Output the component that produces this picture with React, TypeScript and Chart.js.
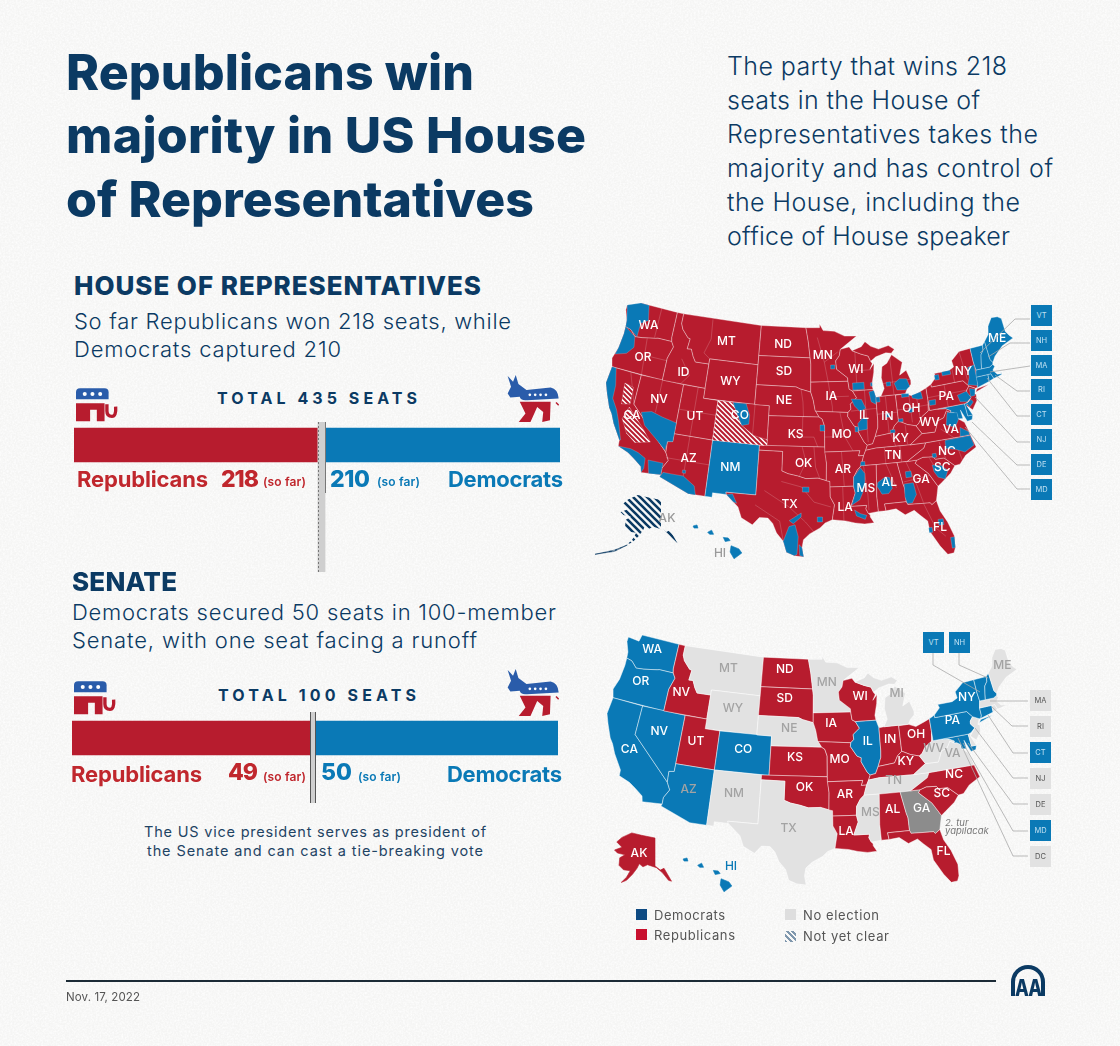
import React, { useEffect, useRef } from "react";
import { Chart, registerables } from "chart.js";
Chart.register(...registerables);

/* ---------- values ---------- */
const HOUSE_PARTIES = ["Republicans", "Undecided", "Democrats"];
const HOUSE_SEATS = [218, 7, 210];
const SENATE_SEATS = [49, 1, 50];

const SENATE_DEMOCRATS = ["WA","OR","CA","NV","AZ","CO","IL","PA","NY","CT","MD","VT","NH","HI"];
const SENATE_REPUBLICANS = ["ID","UT","ND","SD","IA","WI","KS","MO","OK","AR","LA","AL","FL","SC","NC","KY","IN","OH","AK"];
const SENATE_RUNOFF = ["GA"];
const HOUSE_BLUE_STATES = ["NM","ME","NH","VT","MA","RI","CT","MD","DE"];

/* state outlines: lon,lat pairs */
const STATE_SHAPES: Record<string, number[]> = {
  WA:[-124.7,48.4,-123,48.3,-122.8,49,-117.03,49,-117.04,46.4,-116.92,45.99,-118.98,46,-119.3,45.93,-121.2,45.65,-122.3,45.55,-122.8,45.9,-123.2,46.15,-124,46.27,-124.1,46.9,-124.7,47.9],
  OR:[-124,46.27,-123.2,46.15,-122.8,45.9,-122.3,45.55,-121.2,45.65,-119.3,45.93,-118.98,46,-116.92,45.99,-116.5,45.5,-117.03,44.25,-117.03,42,-124.2,42,-124.55,42.84,-124.1,44,-123.95,45.5],
  CA:[-124.2,42,-120,42,-120,39,-114.63,35,-114.15,34.27,-114.72,33.4,-114.72,32.72,-117.12,32.53,-117.3,33.1,-118.4,33.75,-119.2,34.15,-120.6,34.55,-120.65,35.15,-121.9,36.6,-122.5,37.5,-123,38,-123.8,39.3,-124.35,40.3],
  NV:[-120,42,-114.04,42,-114.04,36.2,-114.7,36.1,-114.63,35,-120,39],
  ID:[-117.03,49,-116.05,49,-116.05,48,-115.7,47.45,-114.7,46.7,-114.35,46.65,-114.5,45.6,-113.9,45.65,-113.45,44.95,-113,44.45,-111.05,44.48,-111.05,42,-117.03,42,-117.03,44.25,-116.5,45.5,-116.92,45.99,-117.04,46.4],
  MT:[-116.05,49,-104.05,49,-104.05,45,-111.05,45,-111.05,44.48,-113,44.45,-113.45,44.95,-113.9,45.65,-114.5,45.6,-114.35,46.65,-114.7,46.7,-115.7,47.45,-116.05,48],
  WY:[-111.05,45,-104.05,45,-104.05,41,-111.05,41],
  UT:[-114.04,42,-111.05,42,-111.05,41,-109.05,41,-109.05,37,-114.04,37],
  AZ:[-114.04,37,-109.05,37,-109.05,31.33,-111.07,31.33,-114.81,32.5,-114.72,32.72,-114.72,33.4,-114.15,34.27,-114.63,35,-114.7,36.1,-114.04,36.2],
  CO:[-109.05,41,-102.05,41,-102.05,37,-109.05,37],
  NM:[-109.05,37,-103,37,-103,32,-106.62,32,-106.53,31.78,-108.2,31.78,-108.2,31.33,-109.05,31.33],
  ND:[-104.05,49,-97.23,49,-96.85,47.6,-96.56,45.94,-104.05,45.94],
  SD:[-104.05,45.94,-96.56,45.94,-96.45,45.3,-96.45,42.5,-97.9,42.8,-98.5,43,-104.05,43],
  NE:[-104.05,43,-98.5,43,-97.9,42.8,-96.45,42.5,-96.1,41.7,-95.85,40.7,-95.3,40,-102.05,40,-102.05,41,-104.05,41],
  KS:[-102.05,40,-95.3,40,-94.9,39.8,-94.6,39.1,-94.62,37,-102.05,37],
  OK:[-103,37,-94.62,37,-94.43,35.4,-94.48,33.64,-95.5,33.9,-97,33.85,-98,34.1,-99.2,34.3,-100,34.56,-100,36.5,-103,36.5],
  TX:[-103,36.5,-100,36.5,-100,34.56,-99.2,34.3,-98,34.1,-97,33.85,-95.5,33.9,-94.48,33.64,-94.04,33.55,-94.04,32,-93.55,31.2,-93.85,29.7,-94.7,29.4,-95.3,28.9,-96.5,28.3,-97.2,27.7,-97.35,26.9,-97.15,25.95,-98.2,26.05,-99.1,26.4,-99.5,27.5,-100.3,28.3,-100.8,29.25,-101.4,29.77,-102.4,29.77,-103.15,28.98,-104.5,29.6,-105,30.65,-106.53,31.78,-106.62,32,-103,32],
  MN:[-97.23,49,-95.15,49,-95.15,49.38,-94.6,48.7,-92.9,48.6,-91.4,48.07,-89.6,48,-92.1,46.75,-92.3,46.1,-92.85,45.6,-92.75,44.75,-91.25,43.85,-91.22,43.5,-96.45,43.5,-96.45,45.3,-96.56,45.94,-96.85,47.6],
  IA:[-96.45,43.5,-91.22,43.5,-91.1,42.7,-90.65,42.5,-90.15,41.8,-91.05,41.2,-91,40.7,-91.42,40.38,-95.77,40.58,-95.85,40.7,-96.1,41.7,-96.45,42.5],
  MO:[-95.77,40.58,-91.42,40.38,-91.5,40,-90.7,39,-90.15,38.8,-90.2,38.4,-89.5,37.3,-89.15,37,-89.4,36.5,-89.7,36,-90.37,36,-90.15,36.5,-94.62,36.5,-94.62,37,-94.6,39.1,-94.9,39.8,-95.3,40],
  AR:[-94.62,36.5,-90.15,36.5,-90.37,36,-89.7,36,-90.1,35,-90.6,34.6,-91.1,33.9,-91.17,33,-94.04,33,-94.04,33.55,-94.48,33.64,-94.43,35.4],
  LA:[-94.04,33,-91.17,33,-91,32.3,-91.6,31,-89.73,31,-89.85,30.65,-89.6,30.18,-89.4,30,-89.4,29.8,-89,29.2,-90.1,29.15,-91.2,29.3,-92.3,29.55,-93.85,29.7,-93.55,31.2,-94.04,32],
  WI:[-92.1,46.75,-90.8,46.95,-90.4,46.55,-89.1,46.14,-88.1,45.9,-87.8,45.35,-87.6,45.1,-88,44.55,-87.35,45.1,-87.5,44.2,-87.9,43,-87.8,42.5,-90.65,42.5,-91.1,42.7,-91.22,43.5,-91.25,43.85,-92.75,44.75,-92.85,45.6,-92.3,46.1],
  IL:[-90.65,42.5,-87.8,42.5,-87.5,41.7,-87.53,39.35,-87.6,38.7,-88.05,37.8,-88.45,37.1,-89.15,37,-89.5,37.3,-90.2,38.4,-90.15,38.8,-90.7,39,-91.5,40,-91.42,40.38,-91,40.7,-91.05,41.2,-90.15,41.8],
  IN:[-87.5,41.7,-86.8,41.76,-84.8,41.76,-84.8,39.1,-85.4,38.7,-85.9,38,-87,37.9,-88.05,37.8,-87.6,38.7,-87.53,39.35],
  OH:[-84.8,41.7,-83.45,41.73,-82.5,41.4,-81.3,41.75,-80.52,41.98,-80.52,40.64,-80.7,39.7,-81.7,39.2,-82.2,38.6,-82.6,38.4,-83.7,38.65,-84.8,39.1],
  MI:[-86.8,41.76,-84.8,41.76,-83.45,41.73,-83.1,42.2,-82.5,42.6,-82.45,43,-82.9,44.05,-83.9,43.65,-83.3,44.9,-84.7,45.78,-85.5,45,-86.25,44.7,-86.5,43.6,-86.25,42.5],
  UP:[-90.4,46.55,-89.1,46.14,-88.1,45.9,-87.8,45.35,-87,45.75,-85.5,46.05,-84.7,45.95,-84.2,46.3,-85,46.75,-86.5,46.5,-87.6,46.85,-88.4,47.37,-89,46.9],
  KY:[-89.4,36.5,-89.15,37,-88.45,37.1,-88.05,37.8,-87,37.9,-85.9,38,-85.4,38.7,-84.8,39.1,-83.7,38.65,-82.6,38.4,-81.97,37.55,-83.68,36.6,-88.07,36.65],
  TN:[-90.1,35,-89.7,36,-89.4,36.5,-88.07,36.65,-83.68,36.6,-81.68,36.59,-82,36.1,-84.3,35,-85.6,35,-88.2,35],
  MS:[-90.1,35,-88.2,35,-88.45,31.9,-88.4,30.3,-89.6,30.18,-89.85,30.65,-89.73,31,-91.6,31,-91,32.3,-91.17,33,-91.1,33.9,-90.6,34.6],
  AL:[-88.2,35,-85.6,35,-85.15,32.8,-85,32.3,-85,31,-87.6,31,-87.5,30.3,-88.4,30.3,-88.45,31.9],
  GA:[-85.6,35,-84.3,35,-83.1,35,-83.35,34.7,-81.9,33.5,-81,32.1,-81.45,30.7,-82.05,30.36,-82.2,30.57,-84.86,30.7,-85,31,-85,32.3,-85.15,32.8],
  FL:[-87.5,30.3,-87.6,31,-85,31,-84.86,30.7,-82.2,30.57,-82.05,30.36,-81.45,30.7,-81.2,29.6,-80.55,28.4,-80.05,26.9,-80.15,25.7,-80.4,25.2,-81.1,25.15,-81.8,26.1,-82.7,27.7,-82.8,28.8,-83.6,29.5,-84.2,30.05,-85.3,29.7,-86.3,30.4],
  SC:[-83.1,35,-82.3,35.2,-81.05,35.1,-80.8,34.82,-79.7,34.8,-78.55,33.85,-79.2,33.2,-80.5,32.4,-81,32.1,-81.9,33.5,-83.35,34.7],
  NC:[-84.3,35,-83.1,35,-82.3,35.2,-81.05,35.1,-80.8,34.82,-79.7,34.8,-78.55,33.85,-77.9,33.9,-77,34.65,-75.5,35.25,-75.9,36.55,-81.68,36.59,-82,36.1],
  VA:[-83.68,36.6,-81.68,36.59,-75.9,36.55,-76,37,-76.3,37.9,-77.05,38.4,-77.05,38.85,-77.5,39.1,-77.83,39.13,-78.35,39.4,-78.87,38.76,-79.65,38.58,-80.3,37.5,-81.97,37.55],
  WV:[-81.97,37.55,-80.3,37.5,-79.65,38.58,-78.87,38.76,-78.35,39.4,-77.83,39.13,-77.75,39.32,-78.4,39.62,-79.48,39.72,-80.52,39.72,-80.52,40.64,-80.7,39.7,-81.7,39.2,-82.2,38.6,-82.6,38.4],
  MD:[-79.48,39.72,-75.79,39.72,-75.7,38.46,-75.05,38.45,-75.25,38.03,-75.9,37.95,-76.5,39.2,-76.4,38.3,-77.05,38.4,-77.05,38.85,-77.5,39.1,-77.83,39.13,-77.75,39.32,-78.4,39.62],
  DE:[-75.79,39.72,-75.4,39.8,-75.55,39.45,-75.05,38.45,-75.7,38.46],
  PA:[-80.52,41.98,-79.76,42.27,-79.76,42,-75.35,42,-74.7,41.36,-75.13,40.98,-75.2,40.68,-74.75,40.2,-75.4,39.8,-75.79,39.72,-80.52,39.72],
  NJ:[-74.7,41.36,-73.9,41,-74.25,40.47,-74,40.4,-74.1,39.75,-74.9,38.95,-75.55,39.5,-74.75,40.2,-75.2,40.68,-75.13,40.98],
  NY:[-79.76,42.27,-78.9,42.9,-79.05,43.27,-77,43.28,-76.2,43.55,-76.3,44.2,-75,44.95,-73.35,45,-73.35,43.6,-73.25,42.75,-73.5,42.05,-73.5,41.3,-73.65,41,-73.9,41,-74.7,41.36,-75.35,42,-79.76,42],
  LI:[-74,40.6,-72,41.05,-73.7,40.9],
  CT:[-73.5,42.05,-71.8,42.02,-71.85,41.32,-73.65,41,-73.5,41.3],
  RI:[-71.8,42.02,-71.38,42.02,-71.15,41.5,-71.85,41.32],
  MA:[-73.5,42.05,-73.25,42.75,-71.3,42.7,-70.82,42.87,-70.6,42.65,-71,42.3,-70.55,41.8,-70,41.75,-70,42.05,-69.95,41.67,-70.6,41.55,-71.15,41.5,-71.38,42.02,-71.8,42.02],
  VT:[-73.35,45,-71.5,45,-71.6,44.5,-72.05,44.1,-72.3,43.3,-72.45,42.73,-73.25,42.75,-73.35,43.6],
  NH:[-71.5,45,-71.08,45.3,-70.98,43.4,-70.7,43.07,-70.82,42.87,-71.3,42.7,-72.45,42.73,-72.3,43.3,-72.05,44.1,-71.6,44.5],
  ME:[-71.08,45.3,-70.3,45.9,-70,46.7,-69.2,47.45,-68.3,47.35,-67.8,47.07,-67.8,45.7,-67.4,45.2,-67,44.85,-68.8,44.4,-70.2,43.6,-70.7,43.07,-70.98,43.4],
};

const ALASKA = [-141,69.6,-141,60.3,-137.5,58.9,-135,59.5,-130,55.2,-132,55.5,-136,58,-140,59.7,-146,60.7,-149,60,-151.5,61,-153,59.5,-156,57.5,-160,55.5,-163.5,54.8,-160,56.5,-157.5,58.7,-162,59,-165,60.5,-164.5,63,-161,64,-166,64.6,-168,65.6,-163,66.5,-166.5,68.3,-163,69.8,-156.5,71.3,-150,70.5];
const ALEUTIANS = [-163.5,54.6,-172,52.9,-185,51.5,-172,52.5];
const HAWAII = [
  [-159.8,22.1,-159.4,22.2,-159.3,21.9,-159.7,21.9],
  [-158.3,21.5,-157.9,21.7,-157.7,21.3,-158.1,21.3],
  [-156.7,21,-156.2,20.95,-156,20.7,-156.5,20.6],
  [-155.9,20.2,-155.1,19.9,-154.8,19.5,-155.6,18.95,-156,19.6],
];

/* House districts won by Democrats and the undecided ones: lon,lat pairs */
const HOUSE_BLUE_DISTRICTS: number[][] = [
  [-124.7,48.4,-122.8,49,-121.5,49,-121,47.5,-122,47,-122,45.6,-123.2,46.15,-124,46.27,-124.1,46.9],
  [-124,46.27,-122.3,45.55,-122,44.5,-122.8,43.7,-124.3,43.3,-124.1,44,-123.95,45.5],
  [-124.2,42,-123.6,42,-123,40.3,-122.9,39,-122,38,-121.4,37,-120.5,35.2,-120.65,35.15,-121.9,36.6,-122.5,37.5,-123,38,-123.8,39.3,-124.35,40.3],
  [-120.6,34.55,-119,34.6,-118,34.4,-117,34,-116.9,33,-117.12,32.53,-117.3,33.1,-118.4,33.75,-119.2,34.15],
  [-116.6,33.9,-114.72,33.9,-114.72,32.72,-116.2,32.6],
  [-118.8,38.4,-117.5,38.7,-116,38.4,-114.04,38.1,-114.04,36.2,-114.7,36.1,-114.8,35.2,-116,36,-118,37.2],
  [-114.81,32.5,-111.07,31.33,-110.2,31.33,-110.5,32.2,-112,33,-113.5,33,-114.5,33],
  [-112.2,33.6,-111.8,33.6,-111.8,33.3,-112.2,33.3],
  [-107,41,-105.2,41,-104.6,39.9,-104.6,39,-105.5,38.8,-106,39.5],
  [-74.8,41.5,-73.5,41.2,-73.35,43.3,-74.3,43.2,-74.4,42.2],
  [-78,43.3,-76.8,43.3,-76.8,42.9,-78,42.9],
  [-79.1,43.1,-78.5,43.1,-78.5,42.6,-79.1,42.6],
  [-76.5,40.7,-75.2,40.9,-74.75,40.2,-75.4,39.85,-76.3,40],
  [-80.4,40.7,-79.5,40.7,-79.6,40.2,-80.4,40.2],
  [-74.7,41.1,-74,40.9,-74.2,40.3,-74.8,40.3],
  [-75.5,39.7,-74.8,40,-74.6,39.7,-75.2,39.3],
  [-78.3,39.2,-77,39,-77,38.3,-77.6,37.6,-78.7,38],
  [-77,37.5,-76,36.9,-76,36.6,-77.2,36.6],
  [-79.2,36.5,-75.95,36.5,-75.7,35.5,-77,35,-78,35.4,-79.3,35.7],
  [-81.1,35.4,-80.6,35.4,-80.6,35,-81.1,35],
  [-81.3,34.3,-80.2,34.1,-79.5,33.5,-80,32.7,-80.8,33,-81.2,33.6],
  [-85,32.8,-83.9,32.8,-83.7,31.6,-84.3,30.8,-84.9,30.8,-85.1,31.5],
  [-84.7,34,-84,34,-84,33.4,-84.7,33.4],
  [-88.2,33.2,-87.2,33.7,-86.7,33.6,-86.5,32.5,-87,32,-87.8,32,-88.3,32.8],
  [-91.1,33.9,-90.2,34.8,-89.7,34.2,-89.8,33,-90.1,32.3,-90.5,31.6,-91.5,31.1,-91,32.3,-91.17,33],
  [-90.1,35.4,-89.6,35.4,-89.6,35,-90.2,35],
  [-91.2,30.6,-90.5,30.2,-89.8,30,-90,29.6,-91,30],
  [-99.1,26.4,-99.5,27.5,-98.9,29,-98.2,29.2,-97.8,28,-97.9,26.2,-98.2,26.05],
  [-97.15,25.95,-97.6,26.1,-97.7,27.2,-97.35,26.9],
  [-106.53,31.78,-105.6,31.1,-105.2,31,-105.8,31.9],
  [-98.9,29.6,-97.5,30.4,-97.5,30,-98.4,29.3],
  [-95.6,30,-95,30,-95,29.5,-95.6,29.5],
  [-97.4,33,-96.6,33,-96.6,32.5,-97.4,32.5],
  [-81.6,28.8,-81,28.8,-81,28.2,-81.6,28.2],
  [-80.5,26.8,-80.05,26.8,-80.15,25.7,-80.5,25.7],
  [-82.8,28.1,-82.4,28.1,-82.4,27.6,-82.8,27.6],
  [-88.4,42.3,-87.7,42.4,-87.5,41.7,-87.6,41,-88.2,41.3],
  [-90.9,41.7,-89.5,41.6,-89,40.7,-89.8,40.4,-90.5,41],
  [-90.2,39.2,-89.6,39.7,-88.9,39.7,-89,38.6,-90.1,38.5],
  [-90.6,43.3,-89,43.3,-89,42.6,-90.6,42.6],
  [-88.1,43.2,-87.85,43.2,-87.85,42.85,-88.1,42.85],
  [-93.6,45.2,-93,45.2,-93,44.8,-93.6,44.8],
  [-95.2,39.2,-94.6,39.2,-94.6,38.6,-95.2,38.6],
  [-90.6,38.9,-90.2,38.9,-90.2,38.4,-90.6,38.4],
  [-84,43.3,-83,43.2,-82.7,42.4,-83.3,42.1,-84.5,42.2,-84.8,42.9],
  [-85.9,43.1,-85.3,43.1,-85.3,42.7,-85.9,42.7],
  [-82.6,41.5,-81.3,41.7,-81.2,41,-81.8,41,-82.6,41.2],
  [-84,41.75,-83,41.7,-83,41.4,-84,41.4],
  [-83.3,40.2,-82.7,40.2,-82.7,39.8,-83.3,39.8],
  [-84.8,39.3,-84.2,39.3,-84.2,39,-84.8,39],
  [-86,38.3,-85.4,38.3,-85.4,38,-86,38],
  [-86.4,40,-85.9,40,-85.9,39.6,-86.4,39.6],
  [-87.5,41.7,-87,41.7,-87,41.2,-87.5,41.2],
];
const HOUSE_UNDECIDED_DISTRICTS: number[][] = [
  [-121.9,40.8,-120.6,40.6,-120.5,38.9,-121.6,38.7],
  [-120.5,38.6,-118.3,37,-116.8,35.7,-118.7,35.3,-120,36,-121,37.3],
  [-109.05,41,-107,41,-106,39.5,-105.5,38.8,-103.8,37.9,-102.05,37.6,-102.05,37,-109.05,37],
];
const HOUSE_DISTRICT_LINES: number[][] = [
  [-111.5,49,-111.3,47,-112,45.5,-111.05,45],[-115,44.5,-113.5,43,-114.5,42],[-97.8,42.8,-97.5,41.5,-97.4,40],[-97.5,40,-97.5,38,-96,38,-95.5,37],
  [-97.5,37,-97,35.5,-97.8,34.1],[-96,37,-95.8,35,-95.3,33.9],[-100,33.5,-97.5,33,-96,31.5,-94,31],[-102,32.5,-99,31,-97,29.5,-96,28.5],[-103,31,-100,29.5,-99.5,27.5],
  [-95.5,48,-94.5,45.5,-94,43.5],[-94.5,45.5,-92.5,46.5],[-94,43.5,-93.5,41,-93.5,40.5],[-93.5,42,-91.2,42],[-92.5,40.4,-92,38,-91,36.5],[-94.6,38,-92,38],
  [-92.5,36.5,-92.3,33],[-92.5,33,-92.5,29.6],[-89.8,35,-89.5,32,-89.5,30.5],[-87,35,-86,32.5],[-84.5,35,-83.5,32.5,-83,30.7],[-85,33,-81.8,33.3],[-83,30.6,-82,28,-81,27],
  [-81.5,35,-80.5,33],[-80,36.5,-79.5,34.7],[-78,36.5,-77.5,34.2],[-79.5,37.7,-78,36.6],[-87,36.6,-87,35],[-85,36.6,-85,35],[-86,37.9,-85.5,36.6],[-84,38.6,-84,36.7],
  [-83,41.6,-83,38.8],[-82,41.4,-81.9,39],[-84.8,40.2,-80.6,40.3],[-86.2,41.7,-86.2,38],[-87.5,40,-84.8,40],[-89,42.5,-89,37.3],[-91,40.5,-87.5,40.6],[-90,46.5,-90,42.5],[-90,44.5,-87.8,44.5],
  [-85,45.5,-85,41.8],[-86.5,43,-82.5,43.1],[-78,42,-78,39.7],[-80.5,41,-75,41],[-76.5,43.5,-76.5,42],[-75,45,-74.7,42],[-112,37,-112,32],[-114.5,34.5,-109.05,34.5],
  [-112,42,-112,37],[-114,39.5,-109,39.5],[-117,42,-117,38.7],[-120.5,45.7,-120,42],[-120,44,-117,44],[-119.5,49,-119.5,46],[-104,41,-104,38],[-121.5,42,-120,39],
];

/* map labels: name, lon, lat */
const HOUSE_LABELS: [string, number, number][] = [
  ["WA",-120.8,47],["OR",-120.4,43.8],["ID",-114.4,43.2],["MT",-109,47],["ND",-100.6,47.2],["SD",-100.3,44.5],["MN",-94.7,46.2],
  ["WI",-90,44.6],["WY",-107.7,43.1],["NE",-100.1,41.6],["IA",-93.6,42],["NV",-116.9,40],["UT",-111.8,39.1],["CO",-105.9,39.8],
  ["CA",-119.9,37.9],["IL",-89.3,40],["IN",-86.2,39.7],["OH",-82.9,40.2],["PA",-78,40.8],["NY",-75,42.9],["ME",-69.2,45.3],
  ["KS",-98.4,38.3],["MO",-92.4,38.2],["KY",-84.8,37.4],["WV",-80.8,38.5],["VA",-78.2,37.5],["NC",-79.2,35.4],["TN",-86,35.8],
  ["OK",-97.3,35.4],["AR",-92.4,34.7],["AZ",-111.7,34.8],["NM",-106.4,34.5],["MS",-89.7,32.7],["AL",-86.8,33.1],["GA",-82.9,33],
  ["SC",-80.1,33.9],["TX",-98.9,31.2],["LA",-92.3,30.9],["FL",-81.5,28],
];
const SENATE_LABELS: [string, number, number][] = [
  ["WA",-120.6,47.4],["OR",-121,44],["NV",-115.1,43.8],["CA",-120.1,37],["NV",-116.9,39.5],["AZ",-111.8,34.3],["UT",-111.9,39.2],["CO",-105.6,39],
  ["MT",-109,47],["WY",-107.6,43],["ND",-100.7,47.5],["SD",-100.5,44.5],["NE",-99.7,41.5],["KS",-98.8,38.5],["OK",-97.5,35.5],["NM",-106.2,34.5],["TX",-99.3,31.3],
  ["MN",-94.5,46.2],["WI",-89.8,44.6],["IA",-94,42],["MO",-93,38.3],["AR",-92.5,34.8],["LA",-92.5,31],["MS",-89.5,32.8],["IL",-89.2,40],["IN",-86.2,40],["OH",-82.7,40.2],
  ["MI",-84.6,44.6],["KY",-84.5,37.6],["TN",-86.3,35.8],["AL",-86.8,32.9],["GA",-83.3,32.7],["FL",-81.5,28],["SC",-80.6,33.9],["NC",-78.7,35.6],["WV",-80.7,38.5],["VA",-78.4,37.7],
  ["PA",-77.6,41],["NY",-75,43],["ME",-69,45.3],
];

const HOUSE_BOXES = ["VT","NH","MA","RI","CT","NJ","DE","MD"];
const SENATE_BOXES_RIGHT = ["MA","RI","CT","NJ","DE","MD","DC"];
const SENATE_BOXES_TOP = ["VT","NH"];

/* ---------- styles ---------- */
const NAVY = "#0b3a63";
const RED = "#b71c2e";
const RED_TEXT = "#c0272d";
const BLUE = "#0a79b6";
const GREY = "#e2e2e2";
const GREY_TEXT = "#a3a3a3";
const RUNOFF = "#8c8c8c";
const FONT = "Inter, 'Noto Sans', sans-serif";

const measureCtx = typeof document !== "undefined" ? document.createElement("canvas").getContext("2d") : null;

function T(props: { x: number; y: number; w?: number; size: number; weight?: number; color?: string; italic?: boolean; children: string }) {
  const { x, y, w, size, weight = 400, color = NAVY, italic, children } = props;
  let ls = 0;
  if (w && measureCtx) {
    measureCtx.font = `${italic ? "italic " : ""}${weight} ${size}px ${FONT}`;
    ls = (w - measureCtx.measureText(children).width) / Math.max(1, children.length - 1);
  }
  return (
    <div
      style={{
        position: "absolute", left: x, top: y, transform: "translateY(-50%)", font: `${italic ? "italic " : ""}${weight} ${size}px/1 ${FONT}`,
        color, letterSpacing: ls, whiteSpace: "nowrap",
      }}
    >
      {children}
    </div>
  );
}

/* ---------- bar chart ---------- */
function SeatsBar(props: { seats: number[]; left: number; top: number; width: number; height: number; bar: number; dashed: boolean; bandBottom: number; lineBottom: number; lineTop: number; lineColor: string }) {
  const ref = useRef<HTMLCanvasElement>(null);
  useEffect(() => {
    const { seats, bar, dashed, top, bandBottom, lineBottom, lineTop, lineColor } = props;
    const total = seats[0] + seats[1] + seats[2];
    const divider = {
      id: "divider",
      afterDatasetsDraw(c: any) {
        const ctx = c.ctx;
        const xa = c.scales.x.getPixelForValue(seats[0]);
        const xb = c.scales.x.getPixelForValue(seats[0] + seats[1]);
        ctx.save();
        ctx.fillStyle = "#cfcfcf";
        ctx.fillRect(xa, lineTop - top, xb - xa, bandBottom - lineTop);
        ctx.strokeStyle = lineColor;
        ctx.lineWidth = 1;
        ctx.beginPath();
        if (dashed) ctx.setLineDash([2, 2]);
        ctx.moveTo(Math.round(xa) + 0.5, lineTop - top);
        ctx.lineTo(Math.round(xa) + 0.5, bandBottom - top);
        ctx.stroke();
        ctx.setLineDash([]);
        ctx.beginPath();
        ctx.moveTo(Math.round(xb) + 0.5, lineTop - top);
        ctx.lineTo(Math.round(xb) + 0.5, lineBottom - top);
        ctx.stroke();
        ctx.restore();
      },
    };
    const colors = [RED, "#cfcfcf", BLUE];
    const chart = new Chart(ref.current!, {
      type: "bar",
      data: {
        labels: ["Seats"],
        datasets: HOUSE_PARTIES.map((p, i) => ({ label: p, data: [seats[i]], backgroundColor: colors[i], barThickness: bar, borderWidth: 0 })),
      },
      options: {
        indexAxis: "y",
        animation: false,
        responsive: false,
        layout: { padding: 0 },
        plugins: { legend: { display: false }, tooltip: { enabled: false } },
        scales: {
          x: { stacked: true, min: 0, max: total, display: false },
          y: { stacked: true, display: false },
        },
      },
      plugins: [divider],
    } as any);
    return () => chart.destroy();
  }, []);
  return <canvas ref={ref} width={props.width} height={props.height} style={{ position: "absolute", left: props.left, top: props.top, width: props.width, height: props.height }} />;
}

/* ---------- map chart ---------- */
const D2R = Math.PI / 180;
const P1 = 29.5 * D2R, P2 = 45.5 * D2R;
const N = (Math.sin(P1) + Math.sin(P2)) / 2;
const CC = Math.cos(P1) ** 2 + 2 * N * Math.sin(P1);
const R0 = Math.sqrt(CC - 2 * N * Math.sin(37.5 * D2R)) / N;
function albers(lon: number, lat: number) {
  const r = Math.sqrt(CC - 2 * N * Math.sin(lat * D2R)) / N;
  const t = N * (lon + 96) * D2R;
  return { x: r * Math.sin(t), y: R0 - r * Math.cos(t) };
}
function pairs(flat: number[]) {
  const out: { x: number; y: number }[] = [];
  for (let i = 0; i < flat.length; i += 2) out.push(albers(flat[i], flat[i + 1]));
  return out;
}
const ALL = Object.values(STATE_SHAPES).flatMap(pairs);
const BX0 = Math.min(...ALL.map((p) => p.x)), BX1 = Math.max(...ALL.map((p) => p.x));
const BY0 = Math.min(...ALL.map((p) => p.y)), BY1 = Math.max(...ALL.map((p) => p.y));

function hatch(ctx: CanvasRenderingContext2D, fg: string, bg: string | null, size: number, width: number) {
  const c = document.createElement("canvas");
  c.width = c.height = size;
  const g = c.getContext("2d")!;
  if (bg) { g.fillStyle = bg; g.fillRect(0, 0, size, size); }
  g.strokeStyle = fg;
  g.lineWidth = width;
  g.beginPath();
  g.moveTo(-1, size - 1); g.lineTo(1, size + 1);
  g.moveTo(0, 0); g.lineTo(size, size);
  g.moveTo(size - 1, -1); g.lineTo(size + 1, 1);
  g.stroke();
  return ctx.createPattern(c, "repeat");
}

type Shape = { name: string; fill: string; line: string; pts: { x: number; y: number }[]; open?: boolean };

function MapChart(props: {
  canvas: { left: number; top: number; width: number; height: number };
  fit: { left: number; right: number; top: number; bottom: number };
  alaska: { x: number; y: number };
  hawaii: { x: number; y: number };
  build: (insets: { ak: any[]; al: any[]; hi: any[][] }) => Shape[];
  labels: [string, number, number][];
  labelShift: number;
  labelColor: (s: string) => string;
  extraLabels: { text: string; px: number; py: number; color: string }[];
}) {
  const ref = useRef<HTMLCanvasElement>(null);
  useEffect(() => {
    const { canvas, fit, alaska, hawaii, build, labels, labelShift, labelColor, extraLabels } = props;
    const kx = (BX1 - BX0) / (fit.right - fit.left);
    const ky = (BY1 - BY0) / (fit.bottom - fit.top);
    const toData = (px: number, py: number) => ({ x: BX0 + (px - fit.left) * kx, y: BY1 - (py - fit.top) * ky });
    const inset = (f: number[]) => {
      const o: any[] = [];
      for (let i = 0; i < f.length; i += 2) o.push(toData(alaska.x + (f[i] + 141) * 1.5, alaska.y + (69.6 - f[i + 1]) * 3));
      return o;
    };
    const hi = HAWAII.map((f) => {
      const o: any[] = [];
      for (let i = 0; i < f.length; i += 2) o.push(toData(hawaii.x + (f[i] + 155.5) * 9.75, hawaii.y + (19.6 - f[i + 1]) * 10.4));
      return o;
    });
    const shapes = build({ ak: inset(ALASKA), al: inset(ALEUTIANS), hi });
    const min = toData(canvas.left, canvas.top + canvas.height);
    const max = toData(canvas.left + canvas.width, canvas.top);
    const polygons = {
      id: "polygons",
      beforeDatasetsDraw(c: any) {
        const ctx = c.ctx;
        const pats: Record<string, any> = {
          "hatch-red": hatch(ctx, RED, "#ffffff", 5, 2),
          "hatch-navy": hatch(ctx, NAVY, null, 7, 2.6),
        };
        c.data.datasets.forEach((ds: any, i: number) => {
          const pts = c.getDatasetMeta(i).data;
          if (!ds.polygon || !pts.length) return;
          ctx.beginPath();
          pts.forEach((p: any, j: number) => (j ? ctx.lineTo(p.x, p.y) : ctx.moveTo(p.x, p.y)));
          if (!ds.open) {
            ctx.closePath();
            ctx.fillStyle = pats[ds.backgroundColor] || ds.backgroundColor;
            ctx.fill();
          }
          ctx.strokeStyle = ds.borderColor;
          ctx.lineWidth = ds.borderWidth;
          ctx.stroke();
        });
      },
      afterDatasetsDraw(c: any) {
        const ctx = c.ctx;
        ctx.save();
        ctx.textAlign = "center";
        ctx.textBaseline = "middle";
        ctx.font = `500 12px ${FONT}`;
        labels.forEach(([s, lon, lat]) => {
          const p = albers(lon, lat);
          ctx.fillStyle = labelColor(s);
          ctx.fillText(s, c.scales.x.getPixelForValue(p.x), c.scales.y.getPixelForValue(p.y) + labelShift);
        });
        extraLabels.forEach((l) => {
          const p = toData(l.px, l.py);
          ctx.fillStyle = l.color;
          ctx.fillText(l.text, c.scales.x.getPixelForValue(p.x), c.scales.y.getPixelForValue(p.y));
        });
        ctx.restore();
      },
    };
    const chart = new Chart(ref.current!, {
      type: "scatter",
      data: {
        datasets: shapes.map((s) => ({
          label: s.name, polygon: true, open: s.open, data: s.pts, backgroundColor: s.fill, borderColor: s.line, borderWidth: 0.6, pointRadius: 0, showLine: false,
        })),
      },
      options: {
        animation: false,
        responsive: false,
        layout: { padding: 0 },
        plugins: { legend: { display: false }, tooltip: { enabled: false } },
        scales: {
          x: { type: "linear", min: min.x, max: max.x, display: false },
          y: { type: "linear", min: min.y, max: max.y, display: false },
        },
      },
      plugins: [polygons],
    } as any);
    return () => chart.destroy();
  }, []);
  const cv = props.canvas;
  return <canvas ref={ref} width={cv.width} height={cv.height} style={{ position: "absolute", left: cv.left, top: cv.top, width: cv.width, height: cv.height }} />;
}

const houseBuild = (ins: { ak: any[]; al: any[]; hi: any[][] }): Shape[] => {
  const out: Shape[] = Object.entries(STATE_SHAPES).map(([k, f]) => ({
    name: k, pts: pairs(f), fill: HOUSE_BLUE_STATES.includes(k) ? BLUE : RED, line: "rgba(255,255,255,0.55)",
  }));
  HOUSE_DISTRICT_LINES.forEach((f, i) => out.push({ name: "l" + i, pts: pairs(f), fill: "none", line: "rgba(255,255,255,0.3)", open: true }));
  HOUSE_UNDECIDED_DISTRICTS.forEach((f, i) => out.push({ name: "u" + i, pts: pairs(f), fill: "hatch-red", line: "rgba(255,255,255,0.4)" }));
  HOUSE_BLUE_DISTRICTS.forEach((f, i) => out.push({ name: "d" + i, pts: pairs(f), fill: BLUE, line: "rgba(255,255,255,0.3)" }));
  out.push({ name: "AK", pts: ins.ak, fill: "hatch-navy", line: "rgba(0,0,0,0)" });
  out.push({ name: "Aleutians", pts: ins.al, fill: "hatch-navy", line: NAVY });
  ins.hi.forEach((p, i) => out.push({ name: "HI" + i, pts: p, fill: BLUE, line: BLUE }));
  return out;
};
const senateBuild = (ins: { ak: any[]; al: any[]; hi: any[][] }): Shape[] => {
  const color = (k: string) => {
    const key = k === "UP" ? "MI" : k === "LI" ? "NY" : k;
    if (SENATE_DEMOCRATS.includes(key)) return BLUE;
    if (SENATE_REPUBLICANS.includes(key)) return RED;
    if (SENATE_RUNOFF.includes(key)) return RUNOFF;
    return GREY;
  };
  const out: Shape[] = Object.entries(STATE_SHAPES).map(([k, f]) => ({
    name: k, pts: pairs(f), fill: color(k), line: "rgba(255,255,255,0.75)",
  }));
  out.push({ name: "AK", pts: ins.ak, fill: RED, line: RED });
  ins.hi.forEach((p, i) => out.push({ name: "HI" + i, pts: p, fill: BLUE, line: BLUE }));
  return out;
};
const houseLabelColor = () => "#ffffff";
const senateLabelColor = (s: string) => (["MT","WY","NE","NM","TX","MN","MI","MS","TN","WV","VA","ME","AZ"].includes(s) ? GREY_TEXT : "#ffffff");

/* ---------- icons ---------- */
function Elephant({ x, y }: { x: number; y: number }) {
  return (
    <svg style={{ position: "absolute", left: x, top: y }} width="42" height="34" viewBox="0 0 125 100">
      <path d="M12,0H85Q97,0 97,12V33H0V12Q0,0 12,0Z" fill="#2a5caa" />
      <g fill="#fff"><circle cx="26" cy="17" r="6" /><circle cx="49" cy="17" r="6" /><circle cx="72" cy="17" r="6" /></g>
      <path d="M0,45H85V98H62V64H42V98H0Z" fill={RED} />
      <path d="M92,48V68Q92,84 107,84Q120,84 118,55" fill="none" stroke={RED} strokeWidth="10" />
    </svg>
  );
}
function Donkey({ x, y }: { x: number; y: number }) {
  return (
    <svg style={{ position: "absolute", left: x, top: y }} width="52" height="48" viewBox="0 0 155 143">
      <path d="M2,3L18,20L26,0L34,27L58,45L130,37Q152,41 154,70L60,75Q40,77 38,65L10,67L2,55L12,35Z" fill="#2a5caa" />
      <g fill="#fff"><circle cx="68" cy="59" r="4" /><circle cx="84" cy="59" r="4" /><circle cx="100" cy="59" r="4" /><circle cx="116" cy="59" r="4" /></g>
      <path d="M38,80H130L128,135L105,140L108,110L90,95L70,140L35,140L55,115Z" fill={RED} />
      <path d="M146,82L154,90" stroke={RED} strokeWidth="4" />
    </svg>
  );
}

function Boxes({ names, x, y, step, vertical, grey }: { names: string[]; x: number; y: number; step: number; vertical: boolean; grey?: string[] }) {
  return (
    <>
      {names.map((n, i) => {
        const g = grey && grey.includes(n);
        return (
          <div key={n} style={{
            position: "absolute", left: vertical ? x : x + i * step, top: vertical ? y + i * step : y, width: 21, height: 21,
            background: g ? "#e2e2e2" : BLUE, color: g ? "#555" : "#bfe0f2", font: `400 7.5px/21px ${FONT}`, textAlign: "center",
          }}>{n}</div>
        );
      })}
    </>
  );
}

const HOUSE_LEADERS = ["1030,319 1015,319 980,353","1030,343 1010,343 988,357","1030,366 990,372","1030,391 1017,391 995,375","1030,416 1017,416 987,378","1030,442 1017,442 975,397","1030,465 1017,465 972,422","1030,489 1017,489 965,427"];
const SENATE_LEADERS = ["933,652 933,665 980,692","959,652 959,665 988,678","1028,701 990,701","1028,726 1012,726 992,707","1028,753 1013,753 988,715","1028,778 1013,778 975,728","1028,804 1013,804 968,743","1028,831 1013,831 963,743","1028,856 1013,856 958,738"];

export default function App() {
  return (
    <div style={{ position: "absolute", left: 0, top: 0, width: 1120, height: 1046, overflow: "hidden", background: "#f5f5f4" }}>
      <svg style={{ position: "absolute", left: 0, top: 0 }} width="1120" height="1046">
        <filter id="paper" x="0" y="0" width="100%" height="100%">
          <feTurbulence type="fractalNoise" baseFrequency="0.55" numOctaves="3" seed="4" />
          <feColorMatrix type="matrix" values="0 0 0 0 1  0 0 0 0 1  0 0 0 0 1  1.6 0 0 0 -0.55" />
        </filter>
        <rect width="1120" height="1046" filter="url(#paper)" />
      </svg>

      <T x={66} y={72} w={408} size={50} weight={800}>Republicans win</T>
      <T x={66} y={135} w={520} size={50} weight={800}>majority in US House</T>
      <T x={66} y={199} w={468} size={50} weight={800}>of Representatives</T>

      <T x={727} y={66} w={280} size={25} weight={300}>The party that wins 218</T>
      <T x={727} y={100} w={253} size={25} weight={300}>seats in the House of</T>
      <T x={727} y={134} w={311} size={25} weight={300}>Representatives takes the</T>
      <T x={727} y={168} w={326} size={25} weight={300}>majority and has control of</T>
      <T x={727} y={202} w={293} size={25} weight={300}>the House, including the</T>
      <T x={727} y={236} w={283} size={25} weight={300}>office of House speaker</T>

      <T x={74} y={286} w={407} size={26} weight={800}>HOUSE OF REPRESENTATIVES</T>
      <T x={74} y={321} w={437} size={22} weight={300}>So far Republicans won 218 seats, while</T>
      <T x={74} y={349} w={267} size={22} weight={300}>Democrats captured 210</T>
      <T x={217} y={398} w={200} size={16} weight={700}>TOTAL 435 SEATS</T>

      <Elephant x={76} y={388} />
      <Donkey x={507} y={375} />
      <SeatsBar seats={HOUSE_SEATS} left={74} top={318} width={486} height={254} bar={34} dashed bandBottom={572} lineTop={422} lineBottom={493} lineColor="#777777" />

      <T x={77} y={479} w={131} size={22} weight={700} color={RED_TEXT}>Republicans</T>
      <T x={221} y={479} w={38} size={23} weight={800} color={RED_TEXT}>218</T>
      <T x={263} y={482} w={43} size={12} weight={600} color={RED_TEXT}>(so far)</T>
      <T x={330} y={479} w={40} size={23} weight={800} color={BLUE}>210</T>
      <T x={377} y={482} w={43} size={12} weight={600} color={BLUE}>(so far)</T>
      <T x={448} y={479} w={115} size={22} weight={700} color={BLUE}>Democrats</T>

      <T x={72} y={582} w={105} size={26} weight={800}>SENATE</T>
      <T x={72} y={612} w={484} size={22} weight={300}>Democrats secured 50 seats in 100-member</T>
      <T x={72} y={640} w={405} size={22} weight={300}>Senate, with one seat facing a runoff</T>
      <T x={218} y={695} w={198} size={16} weight={700}>TOTAL 100 SEATS</T>

      <Elephant x={74} y={681} />
      <Donkey x={507} y={669} />
      <SeatsBar seats={SENATE_SEATS} left={72} top={673} width={486} height={130} bar={34} dashed={false} bandBottom={803} lineTop={712} lineBottom={803} lineColor="#555555" />

      <T x={71} y={774} w={131} size={22} weight={700} color={RED_TEXT}>Republicans</T>
      <T x={228} y={772} w={30} size={23} weight={800} color={RED_TEXT}>49</T>
      <T x={263} y={777} w={43} size={12} weight={600} color={RED_TEXT}>(so far)</T>
      <T x={321} y={772} w={31} size={23} weight={800} color={BLUE}>50</T>
      <T x={358} y={777} w={43} size={12} weight={600} color={BLUE}>(so far)</T>
      <T x={447} y={774} w={115} size={22} weight={700} color={BLUE}>Democrats</T>

      <T x={144} y={832} w={342} size={14.5} color="#1f4464">The US vice president serves as president of</T>
      <T x={147} y={851} w={336} size={14.5} color="#1f4464">the Senate and can cast a tie-breaking vote</T>

      <MapChart
        canvas={{ left: 585, top: 295, width: 475, height: 270 }}
        fit={{ left: 606, right: 1013, top: 303, bottom: 557 }}
        alaska={{ x: 661, y: 500 }}
        hawaii={{ x: 735, y: 552 }}
        build={houseBuild}
        labels={HOUSE_LABELS}
        labelShift={0}
        labelColor={houseLabelColor}
        extraLabels={[{ text: "AK", px: 667, py: 518, color: "#9a9a9a" }, { text: "HI", px: 720, py: 553, color: "#9a9a9a" }]}
      />
      <MapChart
        canvas={{ left: 585, top: 625, width: 475, height: 275 }}
        fit={{ left: 607, right: 1017, top: 635, bottom: 885 }}
        alaska={{ x: 655, y: 838 }}
        hawaii={{ x: 725, y: 885 }}
        build={senateBuild}
        labels={SENATE_LABELS}
        labelShift={-4}
        labelColor={senateLabelColor}
        extraLabels={[{ text: "AK", px: 639, py: 853, color: "#ffffff" }, { text: "HI", px: 731, py: 866, color: BLUE }]}
      />

      <svg style={{ position: "absolute", left: 0, top: 0, pointerEvents: "none" }} width="1120" height="1046">
        {HOUSE_LEADERS.concat(SENATE_LEADERS).map((p, i) => (
          <polyline key={i} points={p} fill="none" stroke="#aaaaaa" strokeWidth="0.8" />
        ))}
      </svg>
      <Boxes names={HOUSE_BOXES} x={1031} y={305} step={24.8} vertical />
      <Boxes names={SENATE_BOXES_TOP} x={923} y={632} step={26} vertical={false} />
      <Boxes names={SENATE_BOXES_RIGHT} x={1030} y={690} step={26} vertical grey={["MA","RI","NJ","DE","DC"]} />

      <T x={945} y={823} size={9.5} italic color="#777">2. tur</T>
      <T x={945} y={831} size={9.5} italic color="#777">yapılacak</T>

      <div style={{ position: "absolute", left: 636, top: 909, width: 11, height: 11, background: "#0e4a82" }} />
      <div style={{ position: "absolute", left: 636, top: 929, width: 11, height: 11, background: "#c8102e" }} />
      <div style={{ position: "absolute", left: 785, top: 909, width: 11, height: 11, background: "#dedede" }} />
      <div style={{ position: "absolute", left: 785, top: 931, width: 11, height: 11, background: "repeating-linear-gradient(45deg,#7f97ad 0 2px,transparent 2px 4px)" }} />
      <T x={654} y={915} w={71} size={13} color="#555">Democrats</T>
      <T x={654} y={935} w={81} size={13} color="#555">Republicans</T>
      <T x={803} y={915} w={76} size={13} color="#555">No election</T>
      <T x={803} y={936} w={86} size={13} color="#555">Not yet clear</T>

      <div style={{ position: "absolute", left: 66, top: 980, width: 930, height: 1.5, background: "#1c2b36" }} />
      <T x={66} y={998} w={74} size={11.5} color="#555">Nov. 17, 2022</T>
      <svg style={{ position: "absolute", left: 1010, top: 965 }} width="36" height="32" viewBox="0 0 36 32">
        <path d="M3,31V17A15,15 0 0 1 33,17V31" fill="none" stroke={NAVY} strokeWidth="4" />
        <g transform="translate(18,31) scale(1,1.25)">
          <text x="0" y="0" textAnchor="middle" fontFamily="Inter" fontWeight="800" fontSize="18" fill={NAVY} letterSpacing="-1">AA</text>
        </g>
      </svg>
    </div>
  );
}
